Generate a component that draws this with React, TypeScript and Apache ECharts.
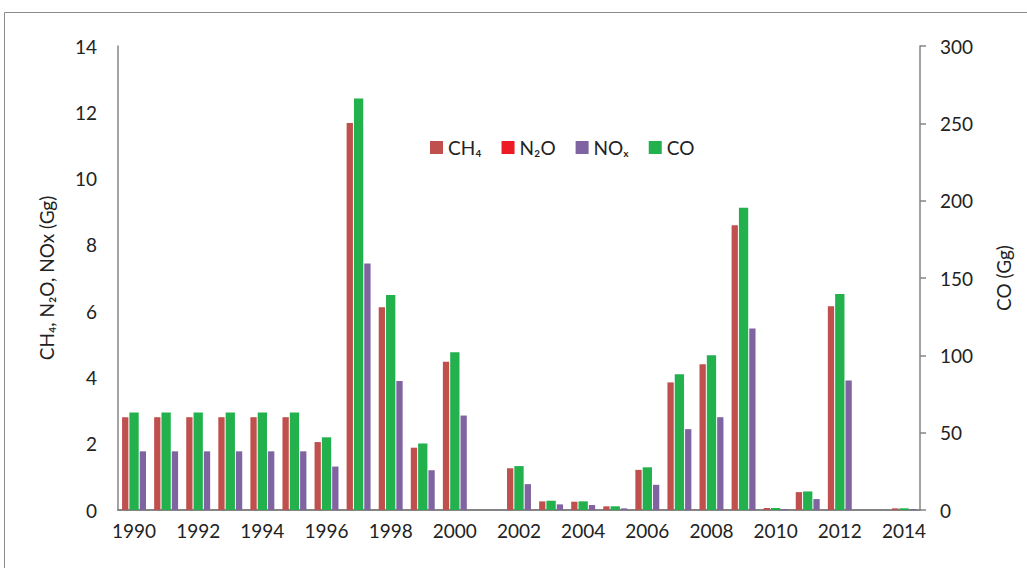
import React, { useEffect, useRef } from "react";
import * as echarts from "echarts";

const years = ["1990","1991","1992","1993","1994","1995","1996","1997","1998","1999","2000","2001","2002","2003","2004","2005","2006","2007","2008","2009","2010","2011","2012","2013","2014"];
const ch4 = [2.8,2.8,2.8,2.8,2.8,2.8,2.05,11.68,6.12,1.88,4.47,0,1.26,0.26,0.25,0.11,1.21,3.85,4.4,8.59,0.06,0.54,6.15,0,0.05];
const n2o = [0.02,0.02,0.02,0.02,0.02,0.02,0.015,0.08,0.04,0.012,0.03,0,0.01,0.002,0.002,0.001,0.01,0.03,0.03,0.06,0.001,0.004,0.04,0,0.001];
const nox = [1.77,1.77,1.77,1.77,1.77,1.77,1.31,7.44,3.89,1.2,2.85,0,0.78,0.17,0.15,0.05,0.76,2.44,2.8,5.48,0.03,0.33,3.91,0,0.03];
const co = [63,63,63,63,63,63,47,266,139,43,102,0,28.4,6,5.6,2.4,27.6,87.7,100,195.4,1.3,12,139.6,0,1.1];
const leftTicks = { min: 0, max: 14, interval: 2 };
const rightTicks = { min: 0, max: 300, interval: 50 };

const FONT = "Lato";
const TXT = "#222222";
const AX = "#858585";

export default function App() {
  const ref = useRef<HTMLDivElement>(null);
  useEffect(() => {
    if (!ref.current) return;
    const chart = echarts.init(ref.current, null, { renderer: "svg" });
    chart.setOption({
      animation: false,
      backgroundColor: "#ffffff",
      textStyle: { fontFamily: FONT, color: TXT },
      graphic: [
        {
          type: "rect",
          shape: { x: 4.5, y: 12.5, width: 1040, height: 600 },
          style: { fill: "none", stroke: "#8a8a8a", lineWidth: 1 },
          silent: true,
        },
      ],
      legend: {
        left: 425,
        top: 133,
        icon: "rect",
        itemWidth: 13,
        itemHeight: 13,
        itemGap: 20,
        textStyle: { fontFamily: FONT, fontSize: 19, color: TXT },
        data: ["CH₄", "N₂O", "NOₓ", "CO"],
      },
      grid: { left: 118, right: 107, top: 46, bottom: 58, containLabel: false },
      xAxis: [
        {
          type: "category",
          data: years,
          axisLine: { show: true, lineStyle: { color: AX, width: 2 } },
          axisTick: { show: false },
          axisLabel: { interval: 1, fontSize: 19, color: TXT, fontFamily: FONT, margin: 11 },
        },
        {
          type: "category",
          data: years,
          show: false,
          gridIndex: 0,
        },
      ],
      yAxis: [
        {
          type: "value",
          ...leftTicks,
          position: "left",
          name: "CH₄, N₂O, NOx (Gg)",
          nameLocation: "middle",
          nameGap: 62,
          nameTextStyle: { fontSize: 19, color: TXT, fontFamily: FONT },
          axisLine: { show: true, lineStyle: { color: AX, width: 1.5 } },
          axisTick: { show: false },
          splitLine: { show: false },
          axisLabel: { fontSize: 19, color: TXT, fontFamily: FONT, margin: 21 },
        },
        {
          type: "value",
          ...rightTicks,
          position: "right",
          name: "CO (Gg)",
          nameLocation: "middle",
          nameGap: 74,
          nameTextStyle: { fontSize: 19, color: TXT, fontFamily: FONT },
          axisLine: { show: true, lineStyle: { color: AX, width: 1.5 } },
          axisTick: { show: true, length: 6, lineStyle: { color: AX, width: 1.5 } },
          splitLine: { show: false },
          axisLabel: { fontSize: 19, color: TXT, fontFamily: FONT, margin: 20 },
        },
      ],
      series: [
        {
          name: "CH₄",
          type: "bar",
          xAxisIndex: 0,
          yAxisIndex: 0,
          data: ch4,
          barWidth: 6.3,
          barGap: "40%",
          itemStyle: { color: "#C0504D" },
        },
        {
          name: "N₂O",
          type: "bar",
          xAxisIndex: 0,
          yAxisIndex: 0,
          data: n2o,
          barWidth: 6.3,
          barGap: "40%",
          itemStyle: { color: "#ED1C24" },
        },
        {
          name: "NOₓ",
          type: "bar",
          xAxisIndex: 0,
          yAxisIndex: 0,
          data: nox,
          barWidth: 6.3,
          barGap: "40%",
          itemStyle: { color: "#8064A2" },
        },
        {
          name: "CO",
          type: "bar",
          xAxisIndex: 1,
          yAxisIndex: 1,
          data: co,
          barWidth: 9.3,
          itemStyle: { color: "#22B14C" },
        },
      ],
    });
    return () => chart.dispose();
  }, []);
  return <div ref={ref} style={{ width: 1027, height: 568, position: "absolute", left: 0, top: 0 }} />;
}
